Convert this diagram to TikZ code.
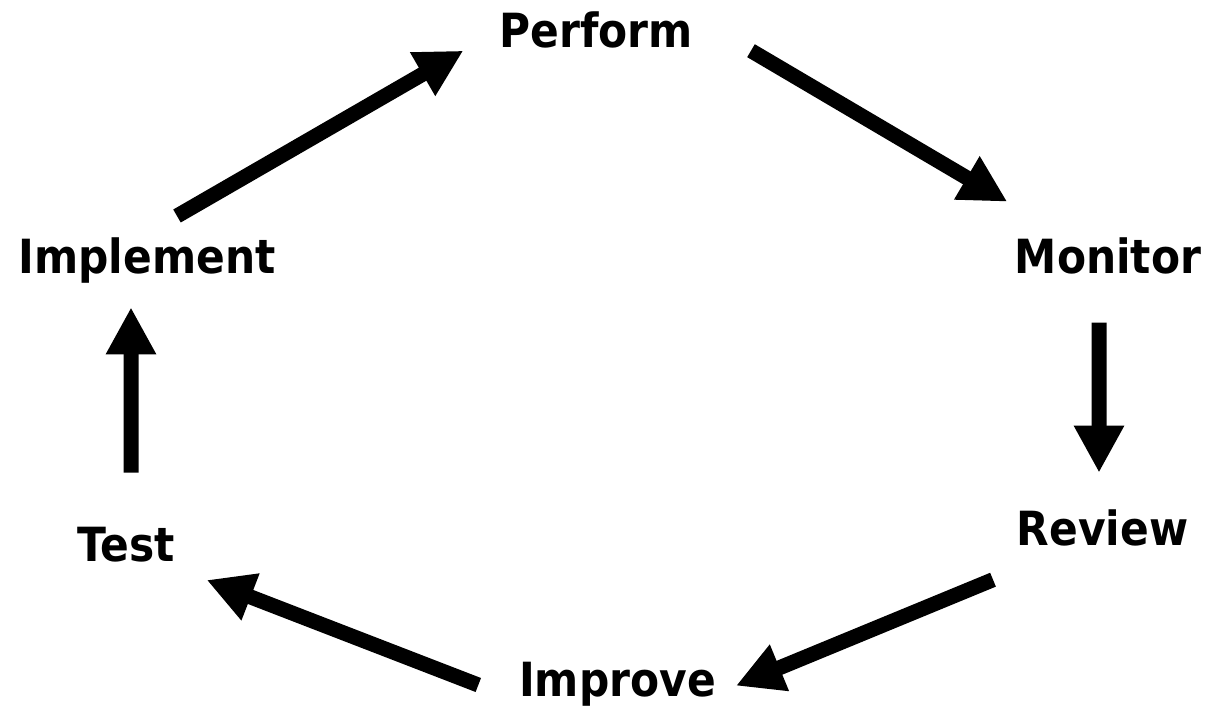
\documentclass[tikz,border=0pt]{standalone}
\usepackage{fontspec}
\setmainfont{DejaVu Sans}[FakeStretch=0.9]
\usetikzlibrary{calc,arrows.meta}

\begin{document}
\begin{tikzpicture}[
    stage/.style={anchor=base, inner sep=0pt, font=\fontsize{13.4}{16}\selectfont\bfseries},
    flow/.style={line width=1.5mm, -{Triangle[length=4.7mm, width=4.7mm]}}
  ]
    \useasboundingbox (0,0) rectangle (12.07,7.07);
    % stages of the cycle
    \node[stage] (perf) at (5.96,6.593) {Perform};
    \node[stage] (mon)  at (11.08,4.337) {Monitor};
    \node[stage] (rev)  at (11.025,1.62) {Review};
    \node[stage] (impr) at (6.175,0.103) {Improve};
    \node[stage] (test) at (1.26,1.453) {Test};
    \node[stage] (impl) at (1.47,4.337) {Implement};
    % arrows between stages
    \draw[flow] ($(impl.base)+(0.30,0.573)$) -- ($(perf.base)+(-1.327,-0.03)$);
    \draw[flow] ($(perf.base)+(1.55,-0.03)$) -- ($(mon.base)+(-1.007,0.716)$);
    \draw[flow] ($(mon.base)+(-0.09,-0.494)$) -- ($(rev.base)+(-0.035,0.723)$);
    \draw[flow] ($(rev.base)+(-1.095,-0.347)$) -- ($(impr.base)+(1.185,0.11)$);
    \draw[flow] ($(impr.base)+(-1.392,0.117)$) -- ($(test.base)+(0.807,-0.183)$);
    \draw[flow] ($(test.base)+(0.05,0.89)$) -- ($(impl.base)+(-0.16,-0.34)$);
\end{tikzpicture}
\end{document}
